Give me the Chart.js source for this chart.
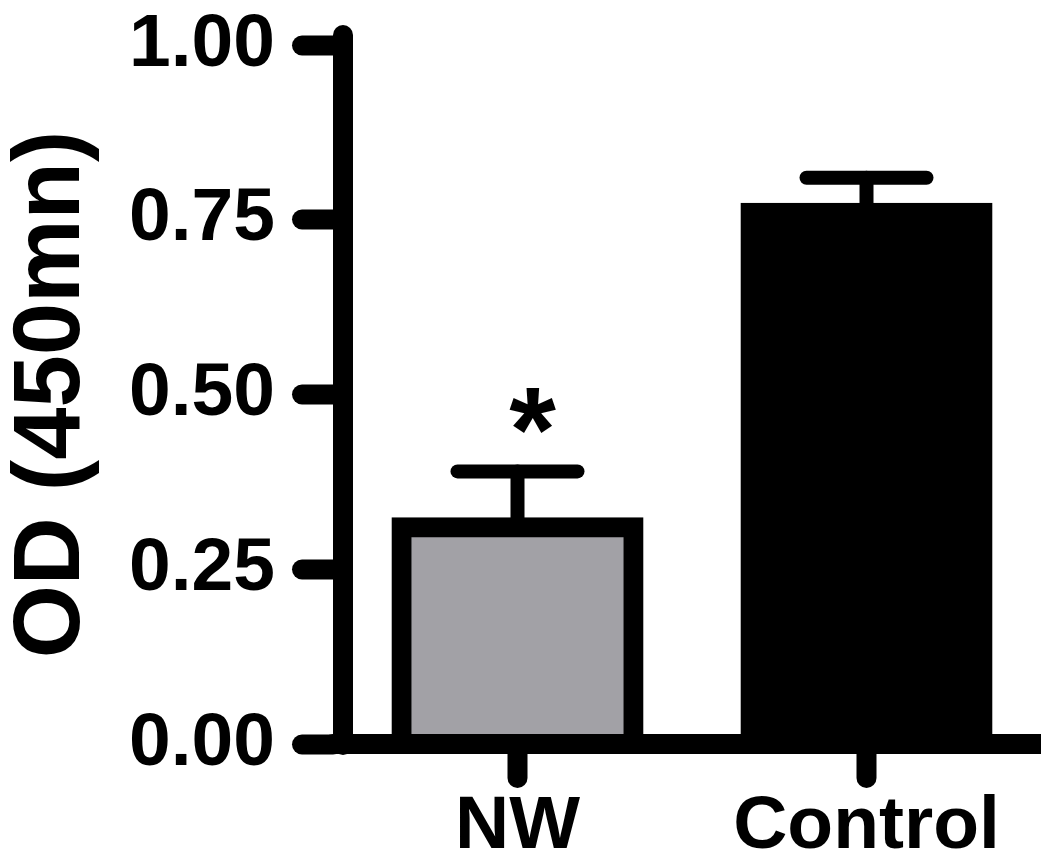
<!DOCTYPE html>
<html>
<head>
<meta charset="utf-8">
<script src="https://cdn.jsdelivr.net/npm/chart.js@4.4.0/dist/chart.umd.min.js"></script>
<style>
  html, body { margin: 0; padding: 0; background: #fff; }
  #wrap { width: 1041px; height: 862px; }
</style>
</head>
<body>
<div id="wrap"><canvas id="odChart"></canvas></div>
<script>
const groups = ['NW', 'Control'];
const odMeans = [0.31, 0.76];
const odErrors = [0.08, 0.05];
const barColors = ['#a2a1a6', '#000000'];
const marks = ['*', ''];
const yTicks = [0, 0.25, 0.5, 0.75, 1.0];

const FONT = "'Liberation Sans', Arial, Helvetica, sans-serif";

// prism-style rounded ends on the tick marks
const roundCaps = {
    id: 'roundCaps',
    beforeDraw(chart) { chart.ctx.lineCap = 'round'; }
};

const errorBars = {
    id: 'errorBars',
    afterDatasetsDraw(chart) {
        const ctx = chart.ctx;
        const y = chart.scales.y;
        ctx.save();
        ctx.strokeStyle = '#000';
        ctx.lineCap = 'round';
        chart.getDatasetMeta(0).data.forEach((bar, i) => {
            const top = y.getPixelForValue(odMeans[i] + odErrors[i]);
            const base = y.getPixelForValue(odMeans[i]);
            ctx.lineWidth = 14;
            ctx.beginPath(); ctx.moveTo(bar.x, base); ctx.lineTo(bar.x, top); ctx.stroke();
            ctx.beginPath(); ctx.moveTo(bar.x - 60, top); ctx.lineTo(bar.x + 60, top); ctx.stroke();
            if (marks[i]) {
                ctx.fillStyle = '#000';
                ctx.font = 'bold 120px ' + FONT;
                ctx.textAlign = 'center';
                ctx.textBaseline = 'alphabetic';
                ctx.fillText(marks[i], bar.x + 15, top);
            }
        });
        ctx.restore();
    }
};

new Chart(document.getElementById('odChart'), {
    type: 'bar',
    data: {
        labels: groups,
        datasets: [{
            data: odMeans,
            backgroundColor: barColors,
            borderColor: '#000',
            borderWidth: 20,
            borderSkipped: 'start',
            inflateAmount: 10,
            barPercentage: 0.665,
            categoryPercentage: 1
        }]
    },
    options: {
        responsive: true,
        maintainAspectRatio: false,
        animation: false,
        layout: { padding: { top: 45, left: 0, right: 0, bottom: 0 } },
        plugins: { legend: { display: false }, tooltip: { enabled: false } },
        scales: {
            x: {
                grid: { offset: false, drawOnChartArea: false, drawTicks: true, tickLength: 34, tickWidth: 20, tickColor: '#000' },
                border: { display: true, width: 20, color: '#000', z: 1 },
                ticks: { color: '#000', padding: 4, font: { family: FONT, size: 75, weight: 'bold' } },
                afterFit(scale) {
                    scale.height = 118;
                    scale.paddingLeft = 0;
                    scale.paddingRight = 0;
                }
            },
            y: {
                min: 0,
                max: 1,
                afterBuildTicks(scale) { scale.ticks = yTicks.map(v => ({ value: v })); },
                grid: { drawOnChartArea: false, drawTicks: true, tickLength: 41, tickWidth: 20, tickColor: '#000' },
                border: { display: true, width: 20, color: '#000', z: 1 },
                ticks: {
                    color: '#000',
                    padding: 27,
                    font: { family: FONT, size: 75, weight: 'bold' },
                    callback: v => v.toFixed(2)
                },
                title: {
                    display: true,
                    text: 'OD (450mn)',
                    color: '#000',
                    font: { family: FONT, size: 94, weight: 'bold', lineHeight: 1 },
                    padding: { top: 6, bottom: 0 }
                },
                afterFit(scale) {
                    scale.width = 343;
                    scale.paddingTop = 0;
                    scale.paddingBottom = 0;
                }
            }
        }
    },
    plugins: [roundCaps, errorBars]
});
</script>
</body>
</html>
